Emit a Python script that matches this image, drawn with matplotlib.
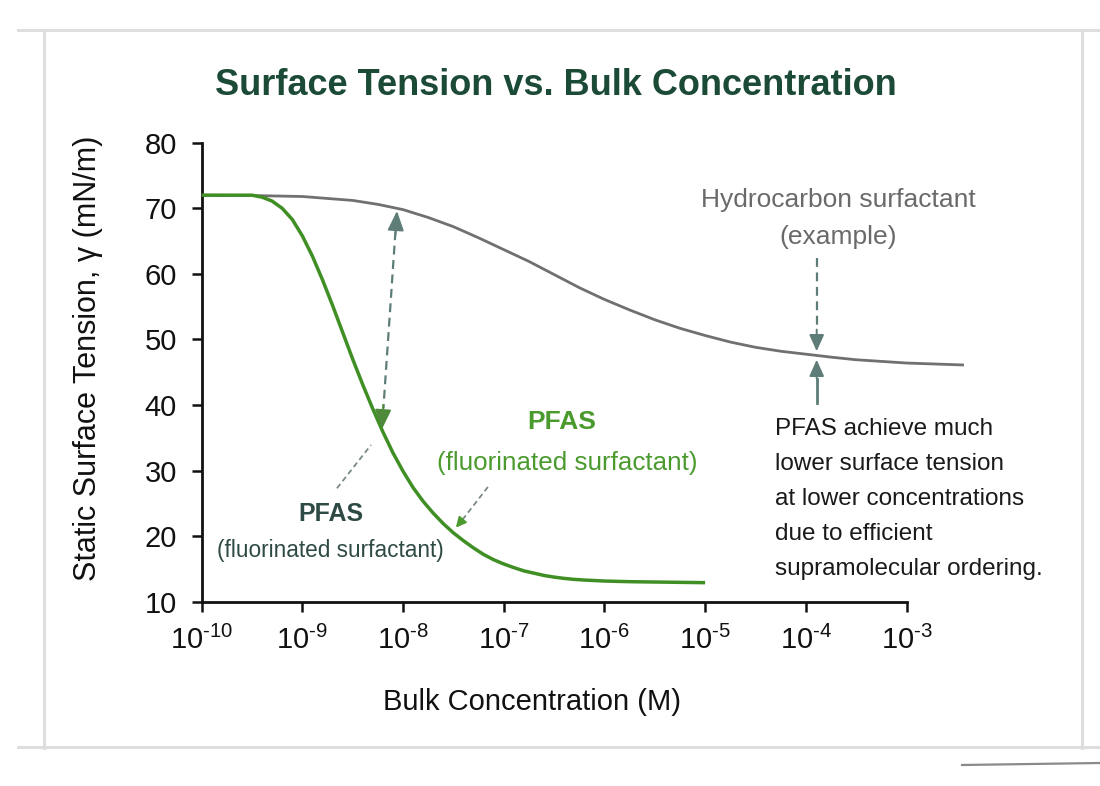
import numpy as np
import matplotlib
matplotlib.use("Agg")
import matplotlib.pyplot as plt
from matplotlib import font_manager
from matplotlib.lines import Line2D
from matplotlib.ticker import FixedLocator, FixedFormatter, NullLocator

# ---------------- data (log10 of bulk concentration in M, surface tension in mN/m)
pfas_log_conc = [-10.0, -9.75, -9.5, -9.4, -9.3, -9.2, -9.1, -9.0, -8.9, -8.8, -8.7,
                 -8.6, -8.5, -8.4, -8.3, -8.2, -8.1, -8.0, -7.9, -7.8, -7.7, -7.6,
                 -7.5, -7.4, -7.3, -7.2, -7.1, -7.0, -6.9, -6.8, -6.7, -6.6, -6.5,
                 -6.4, -6.3, -6.2, -6.0, -5.75, -5.5, -5.0]
pfas_gamma = [72.0, 72.0, 72.0, 71.7, 71.1, 70.0, 68.3, 65.8, 62.7, 59.1, 55.2,
              51.1, 47.0, 43.1, 39.4, 35.9, 32.7, 29.9, 27.4, 25.3, 23.5, 21.9,
              20.5, 19.3, 18.2, 17.2, 16.4, 15.75, 15.2, 14.7, 14.35, 14.0, 13.75,
              13.55, 13.4, 13.3, 13.15, 13.05, 13.0, 12.9]

hc_log_conc = [-10.0, -9.5, -9.0, -8.5, -8.25, -8.0, -7.75, -7.5, -7.25, -7.0, -6.75,
               -6.5, -6.25, -6.0, -5.75, -5.5, -5.25, -5.0, -4.75, -4.5, -4.25,
               -4.0, -3.75, -3.5, -3.0, -2.43]
hc_gamma = [72.0, 71.95, 71.8, 71.2, 70.6, 69.8, 68.6, 67.2, 65.5, 63.7, 61.9,
            59.9, 57.9, 56.1, 54.5, 53.0, 51.7, 50.6, 49.6, 48.8, 48.2,
            47.75, 47.3, 46.9, 46.4, 46.1]

x_tick_exponents = [-10, -9, -8, -7, -6, -5, -4, -3]
x_tick_labels = [f"$10^{{\\text{{-}}{-e}}}$" for e in x_tick_exponents]
y_ticks = [10, 20, 30, 40, 50, 60, 70, 80]

title_text = "Surface Tension vs. Bulk Concentration"
x_label = "Bulk Concentration (M)"
y_label = "Static Surface Tension, \u03b3 (mN/m)"
note_text = ("PFAS achieve much\nlower surface tension\nat lower concentrations\n"
             "due to efficient\nsupramolecular ordering.")

# ---------------- fonts
names = {f.name for f in font_manager.fontManager.ttflist}
SANS = "Liberation Sans" if "Liberation Sans" in names else "DejaVu Sans"

plt.rcParams["font.family"] = [SANS, "DejaVu Sans"]
plt.rcParams["mathtext.fontset"] = "custom"
plt.rcParams["mathtext.rm"] = SANS
plt.rcParams["mathtext.it"] = SANS
plt.rcParams["mathtext.default"] = "regular"

# ---------------- colours
GREEN_LINE = "#3f8f24"
GREEN_TEXT = "#4a9a2e"
GRAY_LINE = "#707070"
GRAY_TEXT = "#6a6a6a"
ARROW = "#5e7d78"
DARK_LABEL = "#2e4a44"
TITLE = "#1b4a37"

fig = plt.figure(figsize=(11.0, 7.86), dpi=100, facecolor="white")
ax = fig.add_axes([0.1833, 0.2345, 0.6408, 0.5839])

pfas_conc = np.power(10.0, pfas_log_conc)
hc_conc = np.power(10.0, hc_log_conc)

ax.plot(hc_conc, hc_gamma, color=GRAY_LINE, lw=2.0, solid_capstyle="butt",
        zorder=3, clip_on=False)
ax.plot(pfas_conc, pfas_gamma, color=GREEN_LINE, lw=2.5, solid_capstyle="butt", zorder=4)

ax.set_xscale("log")
ax.set_xlim(1e-10, 1e-3)
ax.set_ylim(10, 80)
ax.xaxis.set_major_locator(FixedLocator([10.0 ** e for e in x_tick_exponents]))
ax.xaxis.set_major_formatter(FixedFormatter(x_tick_labels))
ax.xaxis.set_minor_locator(NullLocator())
ax.set_yticks(y_ticks)

for s in ["top", "right"]:
    ax.spines[s].set_visible(False)
for s in ["left", "bottom"]:
    ax.spines[s].set_linewidth(2.0)
    ax.spines[s].set_color("#111111")
ax.tick_params(axis="both", length=7.2, width=1.8, color="#111111", labelcolor="#111111")
ax.tick_params(axis="y", labelsize=21, pad=10.5)
ax.tick_params(axis="x", labelsize=21, pad=10)

ax.set_xlabel(x_label, fontsize=21, color="#111111")
ax.xaxis.label.set_va("center")
ax.xaxis.set_label_coords(0.468, -0.2185)
ax.set_ylabel(y_label, fontsize=22, color="#111111")
ax.yaxis.label.set_va("center")
ax.yaxis.set_label_coords(-0.161, 0.531)

ax.set_title(title_text, fontsize=26, fontweight="bold", color=TITLE,
             x=0.502, y=1.1257, va="center", pad=0)


def head(tip, back, color, hw=0.45, hl=0.9, lw=1.4):
    ax.annotate("", xy=tip, xytext=back,
                arrowprops=dict(arrowstyle=f"-|>,head_width={hw},head_length={hl}",
                                color=color, lw=lw, shrinkA=0, shrinkB=0),
                zorder=6)


# dashed double arrow between the curves
top_tip = (10 ** -8.06, 69.6)
bot_tip = (10 ** -8.21, 36.3)
ax.plot([10 ** -8.075, 10 ** -8.195], [66.5, 39.5], ls=(0, (4, 2.5)), color=ARROW, lw=1.6, zorder=5)
head(top_tip, (10 ** -8.075, 66.0), ARROW, hw=0.5, hl=1.2)
head(bot_tip, (10 ** -8.195, 40.0), "#4f8a3a", hw=0.5, hl=1.2)

# left PFAS label
ax.text(10 ** -8.72, 23.3, "PFAS", fontsize=18, fontweight="bold", color=DARK_LABEL,
        ha="center", va="center", zorder=7)
ax.text(10 ** -8.72, 17.8, "(fluorinated surfactant)", fontsize=16.3, color=DARK_LABEL,
        ha="center", va="center", zorder=7)
ax.plot([10 ** -8.656, 10 ** -8.318], [27.3, 33.9], ls=(0, (3, 2)), color="#7a8a86", lw=1.3, zorder=5)

# right PFAS label
ax.text(10 ** -6.42, 37.4, "PFAS", fontsize=19, fontweight="bold", color=GREEN_TEXT,
        ha="center", va="center", zorder=7)
ax.text(10 ** -6.37, 31.2, "(fluorinated surfactant)", fontsize=18.7, color=GREEN_TEXT,
        ha="center", va="center", zorder=7)
ax.plot([10 ** -7.157, 10 ** -7.42], [27.5, 22.3], ls=(0, (3, 2)), color="#7a8a86", lw=1.3, zorder=5)
head((10 ** -7.475, 21.3), (10 ** -7.42, 22.3), GREEN_TEXT, hw=0.3, hl=0.6)

# hydrocarbon label and arrows
ax.text(10 ** -3.68, 71.3, "Hydrocarbon surfactant", fontsize=19, color=GRAY_TEXT,
        ha="center", va="center", zorder=7)
ax.text(10 ** -3.68, 65.6, "(example)", fontsize=19, color=GRAY_TEXT,
        ha="center", va="center", zorder=7)
hx = 10 ** -3.892
ax.plot([hx, hx], [62.4, 51.5], ls=(0, (4, 2.5)), color=ARROW, lw=1.6, zorder=5)
head((hx, 48.2), (hx, 51.5), ARROW, hw=0.45, hl=1.0)
ax.plot([hx, hx], [40.3, 44.0], color=ARROW, lw=2.0, zorder=5)
head((hx, 46.9), (hx, 44.0), ARROW, hw=0.45, hl=1.0)

# explanatory note
ax.text(10 ** -4.305, 38.0, note_text, fontsize=17.5, color="#1a1a1a",
        ha="left", va="top", linespacing=1.76, zorder=7, clip_on=False)

# light frame around the picture
frame = "#dedede"
W, H = 1100.0, 786.0
for (x0, y0, x1, y1) in [(18, 30, 1100, 30), (44, 30, 44, 748), (1082, 30, 1082, 748),
                         (18, 747, 1100, 747)]:
    fig.add_artist(Line2D([x0 / W, x1 / W], [1 - y0 / H, 1 - y1 / H],
                          color=frame, lw=2.2, transform=fig.transFigure))
fig.add_artist(Line2D([962 / W, 1100 / W], [1 - 765 / H, 1 - 763 / H],
                      color="#8a8a8a", lw=1.6, transform=fig.transFigure))

fig.savefig("out.png", dpi=100, facecolor="white")
